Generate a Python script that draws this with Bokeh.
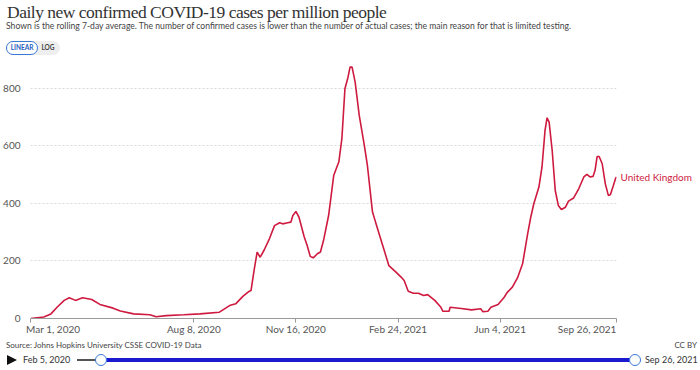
from datetime import datetime
from bokeh.plotting import figure
from bokeh.models import Div, Range1d, FixedTicker, ColumnDataSource, LinearAxis
from bokeh.layouts import column
from bokeh.embed import file_html
from bokeh.resources import INLINE

# ---------------- data ----------------
country = "United Kingdom"
dates = ["2020-03-01", "2020-03-14", "2020-03-21", "2020-03-27", "2020-04-03", "2020-04-08",
         "2020-04-14", "2020-04-21", "2020-04-30", "2020-05-08", "2020-05-21", "2020-05-28",
         "2020-06-10", "2020-06-26", "2020-07-02", "2020-07-12", "2020-07-29", "2020-08-14",
         "2020-09-02", "2020-09-12", "2020-09-18", "2020-09-25", "2020-10-01", "2020-10-03",
         "2020-10-06", "2020-10-09", "2020-10-12", "2020-10-16", "2020-10-21", "2020-10-26",
         "2020-10-31", "2020-11-03", "2020-11-08", "2020-11-11", "2020-11-13", "2020-11-16",
         "2020-11-19", "2020-11-24", "2020-11-27", "2020-11-30", "2020-12-03", "2020-12-07",
         "2020-12-10", "2020-12-13", "2020-12-18", "2020-12-23", "2020-12-26", "2020-12-28",
         "2020-12-31", "2021-01-03", "2021-01-06", "2021-01-08", "2021-01-10", "2021-01-13",
         "2021-01-17", "2021-01-22", "2021-01-25", "2021-01-30", "2021-02-02", "2021-02-09",
         "2021-02-15", "2021-02-22", "2021-02-27", "2021-03-02", "2021-03-06", "2021-03-11",
         "2021-03-16", "2021-03-21", "2021-03-25", "2021-04-01", "2021-04-07", "2021-04-09",
         "2021-04-15", "2021-04-16", "2021-04-27", "2021-05-07", "2021-05-16", "2021-05-18",
         "2021-05-23", "2021-05-26", "2021-06-02", "2021-06-08", "2021-06-11", "2021-06-16",
         "2021-06-21", "2021-06-26", "2021-07-01", "2021-07-04", "2021-07-07", "2021-07-12",
         "2021-07-15", "2021-07-18", "2021-07-20", "2021-07-22", "2021-07-25", "2021-07-28",
         "2021-07-31", "2021-08-03", "2021-08-07", "2021-08-10", "2021-08-15", "2021-08-20",
         "2021-08-25", "2021-08-28", "2021-08-31", "2021-09-03", "2021-09-05", "2021-09-07",
         "2021-09-09", "2021-09-12", "2021-09-15", "2021-09-18", "2021-09-20", "2021-09-23",
         "2021-09-25", "2021-09-26"]
cases_per_million = [0, 5, 16, 39, 63, 72, 63, 72, 66, 49, 36, 26, 16, 13, 6, 10, 13, 16,
                     22, 45, 51, 77, 94, 97, 167, 231, 213, 239, 277, 323, 333, 329, 333, 335,
                     358, 372, 352, 285, 254, 216, 211, 225, 231, 271, 358, 497, 526, 544, 625,
                     799, 839, 874, 874, 822, 706, 602, 532, 370, 335, 254, 184, 161, 144, 132,
                     95, 88, 88, 80, 83, 63, 39, 25, 25, 39, 35, 30, 34, 24, 25, 39, 49, 74, 91,
                     109, 141, 190, 295, 352, 399, 457, 526, 654, 698, 683, 584, 445, 393, 379,
                     387, 408, 419, 451, 492, 501, 492, 494, 515, 563, 563, 538, 469, 428, 430,
                     463, 486, 492]
x_tick_dates = ["2020-03-01", "2020-08-08", "2020-11-16", "2021-02-24", "2021-06-04", "2021-09-26"]
x_tick_labels = ["Mar 1, 2020", "Aug 8, 2020", "Nov 16, 2020", "Feb 24, 2021", "Jun 4, 2021", "Sep 26, 2021"]
y_ticks = [0, 200, 400, 600, 800]
slider_start = "Feb 5, 2020"
slider_end = "Sep 26, 2021"

LINE = "#ce1a3f"
NBSP = "\u00a0"


def ms(s):
    return (datetime.strptime(s, "%Y-%m-%d") - datetime(1970, 1, 1)).total_seconds() * 1000.0


xs = [ms(d) for d in dates]
src = ColumnDataSource(dict(x=xs, y=cases_per_million))
tick_ms = [ms(d) for d in x_tick_dates]

p = figure(width=700, height=282, x_axis_type="datetime",
           x_range=Range1d(tick_ms[0], tick_ms[-1]), y_range=Range1d(0, 890),
           output_backend="svg", toolbar_location=None,
           min_border_left=26, min_border_right=84, min_border_top=4, min_border_bottom=22)
p.outline_line_color = None
p.background_fill_color = "white"
p.border_fill_color = "white"

p.line("x", "y", source=src, line_color=LINE, line_width=1.6)

# x axis: first label left-aligned, last right-aligned (as in the original)
p.xaxis.ticker = FixedTicker(ticks=tick_ms)
overrides = {}
for i, (t, lab) in enumerate(zip(tick_ms, x_tick_labels)):
    if i == 0:
        lab = NBSP * 10 + lab
    elif i == len(tick_ms) - 1:
        lab = lab + NBSP * 23
    overrides[int(t)] = lab
p.xaxis.major_label_overrides = overrides
p.xaxis.axis_line_color = "#999999"
p.xaxis.major_tick_line_color = "#999999"
p.xaxis.major_tick_in = 0
p.xaxis.major_tick_out = 4
p.xaxis.minor_tick_line_color = None
p.xaxis.major_label_text_font = "Lato"
p.xaxis.major_label_text_font_size = "10px"
p.xaxis.major_label_text_color = "#555555"
p.xaxis.major_label_standoff = 0

# y axis
p.yaxis.ticker = FixedTicker(ticks=y_ticks)
p.yaxis.axis_line_color = None
p.yaxis.major_tick_line_color = None
p.yaxis.minor_tick_line_color = None
p.yaxis.major_label_text_font = "Lato"
p.yaxis.major_label_text_font_size = "10px"
p.yaxis.major_label_text_color = "#555555"
p.yaxis.major_label_standoff = 4

p.xgrid.visible = False
p.ygrid.ticker = FixedTicker(ticks=y_ticks[1:])
p.ygrid.grid_line_color = "#d9d9d9"
p.ygrid.grid_line_dash = "2 2"

# series label at the end of the line (right-hand axis with one tick)
last_val = cases_per_million[-1]
series_axis = LinearAxis(ticker=FixedTicker(ticks=[last_val]),
                         major_label_overrides={last_val: country},
                         axis_line_color=None, major_tick_line_color=None,
                         minor_tick_line_color=None, major_tick_in=0, major_tick_out=0,
                         major_label_text_color=LINE,
                         major_label_text_font="Lato", major_label_text_font_size="10px",
                         major_label_standoff=4)
p.add_layout(series_axis, "right")

header_html = """
<div style="position:relative;width:700px;height:58px;font-family:Lato;">
  <div style="position:absolute;left:7px;top:2px;font-family:'Liberation Serif';font-size:17.5px;line-height:20px;letter-spacing:-0.5px;color:#333;white-space:nowrap;">Daily new confirmed COVID-19 cases per million people</div>
  <div style="position:absolute;left:6px;top:20px;font-size:8.6px;line-height:12px;color:#444;white-space:nowrap;">Shown is the rolling 7-day average. The number of confirmed cases is lower than the number of actual cases; the main reason for that is limited testing.</div>
  <div style="position:absolute;left:6px;top:41px;height:14px;width:54px;border-radius:7px;background:#eeeeee;"></div>
  <div style="position:absolute;left:6px;top:41px;height:14px;width:32px;box-sizing:border-box;border-radius:7px;border:1px solid #3a78d6;background:white;color:#1f5fbf;font-size:6.5px;font-weight:bold;line-height:12px;text-align:center;">LINEAR</div>
  <div style="position:absolute;left:38px;top:41px;height:14px;width:20px;color:#444;font-size:6.5px;font-weight:bold;line-height:14px;text-align:center;">LOG</div>
</div>
"""

footer_html = """
<div style="position:relative;width:700px;height:30px;font-family:Lato;">
  <div style="position:absolute;left:6px;top:0px;font-size:8px;line-height:10px;color:#444;white-space:nowrap;">Source: Johns Hopkins University CSSE COVID-19 Data</div>
  <div style="position:absolute;right:3px;top:0px;font-size:8px;line-height:10px;color:#444;white-space:nowrap;">CC BY</div>
  <div style="position:absolute;left:7px;top:15px;width:0;height:0;border-top:5px solid transparent;border-bottom:5px solid transparent;border-left:10px solid #111;"></div>
  <div style="position:absolute;left:23px;top:14px;font-size:9px;color:#333;white-space:nowrap;line-height:12px;">%s</div>
  <div style="position:absolute;left:77px;top:19px;width:24px;height:2px;background:#555;"></div>
  <div style="position:absolute;left:101px;top:18px;width:534px;height:4px;background:#1a1ad0;"></div>
  <div style="position:absolute;left:95px;top:14px;width:12px;height:12px;box-sizing:border-box;border-radius:50%%;border:1.5px solid #3a78d6;background:white;"></div>
  <div style="position:absolute;left:629px;top:14px;width:12px;height:12px;box-sizing:border-box;border-radius:50%%;border:1.5px solid #3a78d6;background:white;"></div>
  <div style="position:absolute;left:645px;top:14px;font-size:9px;color:#333;white-space:nowrap;line-height:12px;">%s</div>
</div>
""" % (slider_start, slider_end)

header = Div(text=header_html, width=700, height=58, margin=0)
footer = Div(text=footer_html, width=700, height=30, margin=0)

layout = column(header, p, footer, margin=0, spacing=0)

open("out.html", "w").write(file_html(layout, INLINE))
